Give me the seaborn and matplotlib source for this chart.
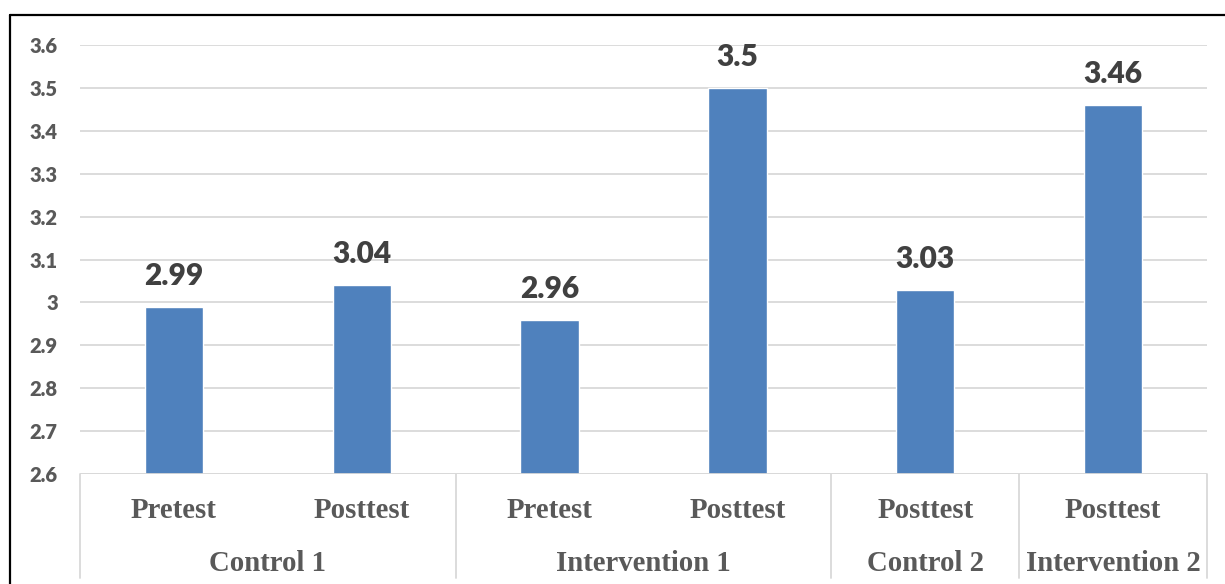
import pandas as pd
import seaborn as sns
import matplotlib.pyplot as plt
from matplotlib.lines import Line2D
from matplotlib.transforms import blended_transform_factory

# data
groups = ['Control 1', 'Control 1', 'Intervention 1', 'Intervention 1', 'Control 2', 'Intervention 2']
tests = ['Pretest', 'Posttest', 'Pretest', 'Posttest', 'Posttest', 'Posttest']
scores = [2.99, 3.04, 2.96, 3.5, 3.03, 3.46]
group_names = ['Control 1', 'Intervention 1', 'Control 2', 'Intervention 2']

yticks = [2.6, 2.7, 2.8, 2.9, 3.0, 3.1, 3.2, 3.3, 3.4, 3.5, 3.6]

bar_color = '#4F81BD'
grid_color = '#D9D9D9'
axis_text = '#595959'
label_text = '#404040'

sns.set_style('white')
plt.rcParams['font.family'] = ['Lato', 'DejaVu Sans']

df = pd.DataFrame({'group': groups, 'test': tests, 'score': scores})
df['key'] = df['group'] + ' ' + df['test']

fig = plt.figure(figsize=(12.25, 5.84), dpi=100)
ax = fig.add_axes([80 / 1225, 1 - 474 / 584, (1207 - 80) / 1225, (474 - 45) / 584])

sns.barplot(data=df, x='key', y='score', color=bar_color, width=0.31,
            saturation=1, ax=ax, zorder=3)

ax.set_ylim(2.6, 3.6)
ax.set_xlim(-0.5, len(df) - 0.5)
ax.set_yticks(yticks)
ax.set_yticklabels([f'{v:g}' for v in yticks], fontsize=14.5, fontweight='heavy', color=axis_text)
ax.tick_params(axis='y', length=0, pad=16)
ax.grid(axis='y', color=grid_color, linewidth=1.3, zorder=0)
ax.set_axisbelow(True)
for s in ax.spines.values():
    s.set_visible(False)
ax.set_xlabel('')
ax.set_ylabel('')

# inner category labels
ax.set_xticks(range(len(df)))
ax.set_xticklabels(df['test'], family=['Liberation Serif'], fontsize=20.7,
                   fontweight='bold', color=axis_text, va='baseline')
ax.tick_params(axis='x', length=0, pad=31.5)

# value labels
for i, v in enumerate(df['score']):
    ax.annotate(f'{v:g}', (i, v), xytext=(0, 15.8), textcoords='offset points',
                ha='center', va='baseline', fontsize=21.5, fontweight='heavy', color=label_text)

# group labels and separators of the two-level axis
trans = blended_transform_factory(ax.transData, ax.transAxes)
depth = (578 - 474) / (474 - 45)
positions = df.reset_index().groupby('group', sort=False)['index'].agg(['min', 'max'])
for name in group_names:
    lo, hi = positions.loc[name, 'min'], positions.loc[name, 'max']
    ax.text((lo + hi) / 2, -(571 - 474) / (474 - 45), name, transform=trans,
            ha='center', va='baseline', family=['Liberation Serif'], fontsize=20.7,
            fontweight='bold', color=axis_text)
    ax.plot([hi + 0.5, hi + 0.5], [0, -depth], transform=trans, color=grid_color,
            linewidth=1.3, clip_on=False)
ax.plot([-0.5, -0.5], [0, -depth], transform=trans, color=grid_color,
        linewidth=1.3, clip_on=False)
ax.axhline(2.6, color=grid_color, linewidth=1.3, zorder=4)

# outer frame of the picture (only top and left edges visible)
fig.add_artist(Line2D([10 / 1225, 1], [1 - 15 / 584, 1 - 15 / 584], color='black', linewidth=1.6))
fig.add_artist(Line2D([10 / 1225, 10 / 1225], [0, 1 - 15 / 584], color='black', linewidth=1.6))

fig.savefig('out.png', dpi=100)
